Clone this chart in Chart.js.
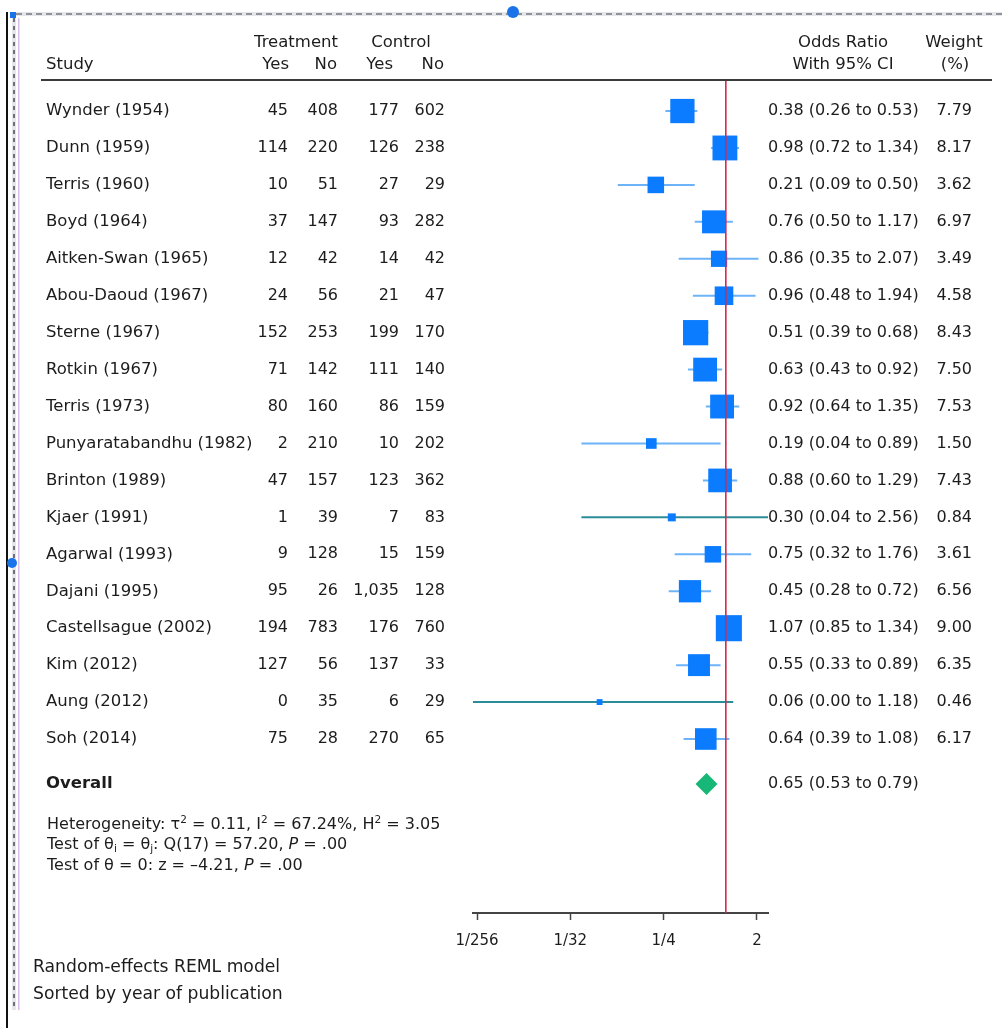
<!DOCTYPE html>
<html>
<head>
<meta charset="utf-8">
<script src="https://cdn.jsdelivr.net/npm/chart.js@4.4.1/dist/chart.umd.min.js"></script>
<style>
  html, body { margin: 0; padding: 0; background: #fff; overflow: hidden; }
  #wrap { position: relative; width: 1002px; height: 1028px; }
</style>
</head>
<body>
<div id="wrap"><canvas id="forest" width="1002" height="1028"></canvas></div>
<script>
// Study-level data
const studies = [
  'Wynder (1954)', 'Dunn (1959)', 'Terris (1960)', 'Boyd (1964)', 'Aitken-Swan (1965)',
  'Abou-Daoud (1967)', 'Sterne (1967)', 'Rotkin (1967)', 'Terris (1973)', 'Punyaratabandhu (1982)',
  'Brinton (1989)', 'Kjaer (1991)', 'Agarwal (1993)', 'Dajani (1995)', 'Castellsague (2002)',
  'Kim (2012)', 'Aung (2012)', 'Soh (2014)'
];
const treatYes = [45, 114, 10, 37, 12, 24, 152, 71, 80, 2, 47, 1, 9, 95, 194, 127, 0, 75];
const treatNo  = [408, 220, 51, 147, 42, 56, 253, 142, 160, 210, 157, 39, 128, 26, 783, 56, 35, 28];
const ctrlYes  = [177, 126, 27, 93, 14, 21, 199, 111, 86, 10, 123, 7, 15, 1035, 176, 137, 6, 270];
const ctrlNo   = [602, 238, 29, 282, 42, 47, 170, 140, 159, 202, 362, 83, 159, 128, 760, 33, 29, 65];
const oddsRatio = [0.38, 0.98, 0.21, 0.76, 0.86, 0.96, 0.51, 0.63, 0.92, 0.19, 0.88, 0.30, 0.75, 0.45, 1.07, 0.55, 0.06, 0.64];
const ciLow     = [0.26, 0.72, 0.09, 0.50, 0.35, 0.48, 0.39, 0.43, 0.64, 0.04, 0.60, 0.04, 0.32, 0.28, 0.85, 0.33, 0.00, 0.39];
const ciHigh    = [0.53, 1.34, 0.50, 1.17, 2.07, 1.94, 0.68, 0.92, 1.35, 0.89, 1.29, 2.56, 1.76, 0.72, 1.34, 0.89, 1.18, 1.08];
const weights   = [7.79, 8.17, 3.62, 6.97, 3.49, 4.58, 8.43, 7.50, 7.53, 1.50, 7.43, 0.84, 3.61, 6.56, 9.00, 6.35, 0.46, 6.17];

// Pooled estimate
const overallLabel = 'Overall';
const overallOR = 0.65;
const overallLow = 0.53;
const overallHigh = 0.79;

// Axis ticks (odds ratio, log2 spacing)
const tickValues = [1 / 256, 1 / 32, 1 / 4, 2];
const tickLabels = ['1/256', '1/32', '1/4', '2'];
const nullOR = 1;

// Plot extents
const xMin = 0.003571;
const xMax = 2.56;
const yMin = -0.84;
const yMax = 21.71;
const overallRow = 18.22;

const TEXT = '#1c1c1c';
const FONT = '"DejaVu Sans", Verdana, sans-serif';
const LABEL_PX = 16.5;
const NUM_PX = 16;
const NOTE_PX = 17.2;
const SQUARE = '#0b7cff';
const CI_LINE = '#6db3f8';
const CI_CLIPPED = '#2b8d97';

const fmtN = v => v.toLocaleString('en-US');
const fmt2 = v => v.toFixed(2);

// CI whiskers, one dataset each; intervals running past the axis are drawn darker
const ciSets = studies.map((s, i) => {
  const clipped = ciLow[i] <= xMin || ciHigh[i] >= xMax;
  return {
    type: 'line',
    label: s,
    data: [{ x: Math.max(ciLow[i], xMin), y: i }, { x: Math.min(ciHigh[i], xMax), y: i }],
    borderColor: clipped ? CI_CLIPPED : CI_LINE,
    borderWidth: 2,
    pointRadius: 0,
    order: 3
  };
});

const datasets = [
  ...ciSets,
  {
    type: 'scatter',
    label: 'Odds ratio',
    data: studies.map((s, i) => ({ x: oddsRatio[i], y: i })),
    pointStyle: 'rect',
    pointRadius: weights.map(w => 6.15 * Math.sqrt(w)),
    pointHoverRadius: weights.map(w => 6.15 * Math.sqrt(w)),
    backgroundColor: SQUARE,
    borderWidth: 0,
    order: 2
  },
  {
    type: 'scatter',
    label: overallLabel,
    data: [{ x: overallOR, y: overallRow }],
    pointStyle: 'rectRot',
    pointRadius: 11,
    pointHoverRadius: 11,
    backgroundColor: '#17b877',
    borderWidth: 0,
    order: 2
  },
  {
    type: 'line',
    label: 'No effect',
    data: [{ x: nullOR, y: yMin }, { x: nullOR, y: yMax }],
    borderColor: '#d8284c',
    borderWidth: 1.6,
    pointRadius: 0,
    order: 1
  }
];

// Draws a run of text pieces (superscripts, subscripts, italics) left to right
function drawRuns(ctx, x, y, runs, size) {
  let cx = x;
  runs.forEach(r => {
    const sz = (r.sup || r.sub) ? size * 0.66 : size;
    ctx.font = (r.italic ? 'italic ' : '') + sz + 'px ' + FONT;
    const dy = r.sup ? -size * 0.32 : (r.sub ? size * 0.28 : 0);
    ctx.fillText(r.t, cx, y + dy);
    cx += ctx.measureText(r.t).width;
  });
}

const tablePlugin = {
  id: 'forestTable',
  afterDraw(chart) {
    const ctx = chart.ctx;
    const ys = chart.scales.y;
    ctx.save();
    ctx.fillStyle = TEXT;
    ctx.textBaseline = 'middle';

    // header
    ctx.font = LABEL_PX + 'px ' + FONT;
    ctx.textAlign = 'center';
    ctx.fillText('Treatment', 296, 43);
    ctx.fillText('Control', 401, 43);
    ctx.fillText('Odds Ratio', 843, 43);
    ctx.fillText('With 95% CI', 843, 65);
    ctx.fillText('Weight', 954, 43);
    ctx.fillText('(%)', 955, 65);
    ctx.textAlign = 'left';
    ctx.fillText('Study', 46, 65);
    ctx.textAlign = 'right';
    ctx.fillText('Yes', 289, 65);
    ctx.fillText('No', 337, 65);
    ctx.fillText('Yes', 393, 65);
    ctx.fillText('No', 444, 65);

    // rule under header
    ctx.strokeStyle = '#3a3a3a';
    ctx.lineWidth = 2;
    ctx.beginPath();
    ctx.moveTo(41, 80);
    ctx.lineTo(992, 80);
    ctx.stroke();

    // study rows
    studies.forEach((s, i) => {
      const y = ys.getPixelForValue(i);
      ctx.font = LABEL_PX + 'px ' + FONT;
      ctx.textAlign = 'left';
      ctx.fillText(s, 46, y);
      ctx.font = NUM_PX + 'px ' + FONT;
      ctx.textAlign = 'right';
      ctx.fillText(fmtN(treatYes[i]), 288, y);
      ctx.fillText(fmtN(treatNo[i]), 338, y);
      ctx.fillText(fmtN(ctrlYes[i]), 399, y);
      ctx.fillText(fmtN(ctrlNo[i]), 445, y);
      ctx.textAlign = 'left';
      ctx.fillText(fmt2(oddsRatio[i]) + ' (' + fmt2(ciLow[i]) + ' to ' + fmt2(ciHigh[i]) + ')', 768, y);
      ctx.textAlign = 'right';
      ctx.fillText(fmt2(weights[i]), 972, y);
    });

    // pooled row
    const yo = ys.getPixelForValue(overallRow);
    ctx.textAlign = 'left';
    ctx.font = 'bold ' + LABEL_PX + 'px ' + FONT;
    ctx.fillText(overallLabel, 46, yo);
    ctx.font = NUM_PX + 'px ' + FONT;
    ctx.fillText(fmt2(overallOR) + ' (' + fmt2(overallLow) + ' to ' + fmt2(overallHigh) + ')', 768, yo);

    // heterogeneity statistics
    ctx.textAlign = 'left';
    drawRuns(ctx, 47, 825, [
      { t: 'Heterogeneity: \u03C4' }, { t: '2', sup: true }, { t: ' = 0.11, I' }, { t: '2', sup: true },
      { t: ' = 67.24%, H' }, { t: '2', sup: true }, { t: ' = 3.05' }
    ], 16);
    drawRuns(ctx, 47, 845, [
      { t: 'Test of \u03B8' }, { t: 'i', sub: true }, { t: ' = \u03B8' }, { t: 'j', sub: true },
      { t: ': Q(17) = 57.20, ' }, { t: 'P', italic: true }, { t: ' = .00' }
    ], 16);
    drawRuns(ctx, 47, 866, [
      { t: 'Test of \u03B8 = 0: z = \u20134.21, ' }, { t: 'P', italic: true }, { t: ' = .00' }
    ], 16);

    // notes
    ctx.font = NOTE_PX + 'px ' + FONT;
    ctx.fillText('Random-effects REML model', 33, 968);
    ctx.fillText('Sorted by year of publication', 33, 995);
    ctx.restore();
  }
};

// Editing frame around the figure
const framePlugin = {
  id: 'frame',
  afterDraw(chart) {
    const ctx = chart.ctx;
    ctx.save();
    // solid left edge
    ctx.fillStyle = '#111';
    ctx.fillRect(6, 12, 2, 1016);
    // dashed top edge
    ctx.fillStyle = '#e4e6ea';
    ctx.fillRect(10, 12, 992, 4);
    ctx.fillStyle = '#8e939c';
    for (let x = 16; x < 1002; x += 10) ctx.fillRect(x, 13, 6, 2);
    // dashed inner left edge
    ctx.fillStyle = '#e4e6ea';
    ctx.fillRect(12, 14, 4, 996);
    ctx.fillStyle = '#6d727a';
    for (let y = 18; y < 1008; y += 8) ctx.fillRect(13, y, 2, 4);
    // lilac guide
    ctx.fillStyle = '#dcbfe8';
    ctx.fillRect(18, 18, 1.5, 992);
    // handles
    ctx.fillStyle = '#1a73e8';
    ctx.fillRect(10, 12, 6, 6);
    ctx.beginPath();
    ctx.arc(513, 12, 6, 0, Math.PI * 2);
    ctx.fill();
    ctx.beginPath();
    ctx.arc(12, 563, 5, 0, Math.PI * 2);
    ctx.fill();
    ctx.restore();
  }
};

new Chart(document.getElementById('forest'), {
  data: { datasets },
  options: {
    responsive: false,
    animation: false,
    devicePixelRatio: 1,
    layout: { padding: { left: 473, right: 234, top: 80, bottom: 75 } },
    plugins: { legend: { display: false }, tooltip: { enabled: false } },
    events: [],
    scales: {
      x: {
        type: 'logarithmic',
        min: xMin,
        max: xMax,
        bounds: 'data',
        afterBuildTicks: scale => { scale.ticks = tickValues.map(v => ({ value: v })); },
        afterFit: scale => { scale.height = 40; },
        border: { display: true, color: '#444', width: 2 },
        grid: { drawOnChartArea: false, drawTicks: true, tickLength: 7, tickWidth: 1.5, tickColor: '#444' },
        ticks: {
          autoSkip: false,
          maxRotation: 0,
          padding: 12,
          color: TEXT,
          font: { family: FONT, size: 15 },
          callback: (v, i) => tickLabels[i]
        }
      },
      y: {
        type: 'linear',
        reverse: true,
        min: yMin,
        max: yMax,
        display: false
      }
    }
  },
  plugins: [tablePlugin, framePlugin]
});
</script>
</body>
</html>
